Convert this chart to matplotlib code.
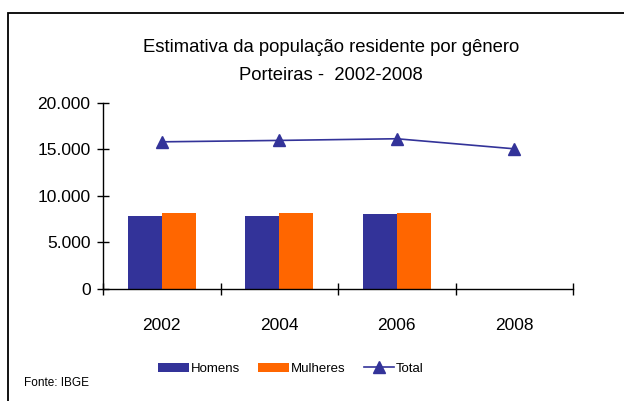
import matplotlib.pyplot as plt
from matplotlib.patches import Rectangle
from matplotlib.ticker import FuncFormatter, FixedLocator


# Data
years = ["2002", "2004", "2006", "2008"]
homens = [7830, 7830, 8050]
mulheres = [8150, 8150, 8150]
total = [15800, 15950, 16130, 15050]

BLUE = "#333399"
ORANGE = "#FF6600"

plt.rcParams["font.family"] = ["Liberation Sans", "DejaVu Sans"]


def thousands(v, pos):
    """Brazilian style thousands separator"""
    return f"{int(v):,}".replace(",", ".")


fig = plt.figure(figsize=(6.24, 4.01), dpi=100)
ax = fig.add_axes([103 / 624, 1 - 289 / 401, 470 / 624, 186.3 / 401])

# Bars and total line
xpos = list(range(len(years)))
bw = 0.29
b1 = ax.bar([x - bw / 2 for x in xpos[:len(homens)]], homens, width=bw,
            color=BLUE, label="Homens", zorder=2)
b2 = ax.bar([x + bw / 2 for x in xpos[:len(mulheres)]], mulheres, width=bw,
            color=ORANGE, label="Mulheres", zorder=2)
ln, = ax.plot(xpos, total, color=BLUE, lw=1.2, marker="^", markersize=8,
              label="Total", zorder=3)

# Axes styling
ax.set_xlim(-0.5, len(years) - 0.5)
ax.set_ylim(0, 20000)
ax.spines["top"].set_visible(False)
ax.spines["right"].set_visible(False)
for side in ("left", "bottom"):
    ax.spines[side].set_linewidth(1)

ax.yaxis.set_major_locator(FixedLocator([0, 5000, 10000, 15000, 20000]))
ax.yaxis.set_major_formatter(FuncFormatter(thousands))
ax.tick_params(axis="y", direction="inout", length=8, width=1,
               labelsize=12.5, pad=5)

ax.set_xticks(xpos)
ax.set_xticklabels(years)
ax.set_xticks([x - 0.5 for x in range(len(years) + 1)], minor=True)
ax.tick_params(axis="x", which="major", length=0, labelsize=12.5, pad=21)
ax.tick_params(axis="x", which="minor", direction="inout", length=9, width=1)

# Title
fig.text(331 / 624, 1 - 48 / 401, "Estimativa da população residente por gênero",
         ha="center", va="center", fontsize=13.3)
fig.text(331 / 624, 1 - 75 / 401, "Porteiras -  2002-2008",
         ha="center", va="center", fontsize=13.3)

# Legend
fig.legend([b1, b2, ln], ["Homens", "Mulheres", "Total"], loc="center",
           bbox_to_anchor=(291 / 624, 1 - 369 / 401), ncol=3,
           frameon=False, fontsize=9.5,
           handlelength=2.3, handleheight=0.75,
           columnspacing=1.4, handletextpad=0.15)

fig.text(24 / 624, 1 - 383 / 401, "Fonte: IBGE", ha="left", va="center",
         fontsize=8.5)

# Chart border (only left and top visible in crop)
fig.patches.append(Rectangle((8 / 624, -0.5), 2, 0.5 + 1 - 13 / 401,
                             transform=fig.transFigure, fill=False,
                             edgecolor="black", lw=1.3))

fig.savefig("out.png", dpi=100)
